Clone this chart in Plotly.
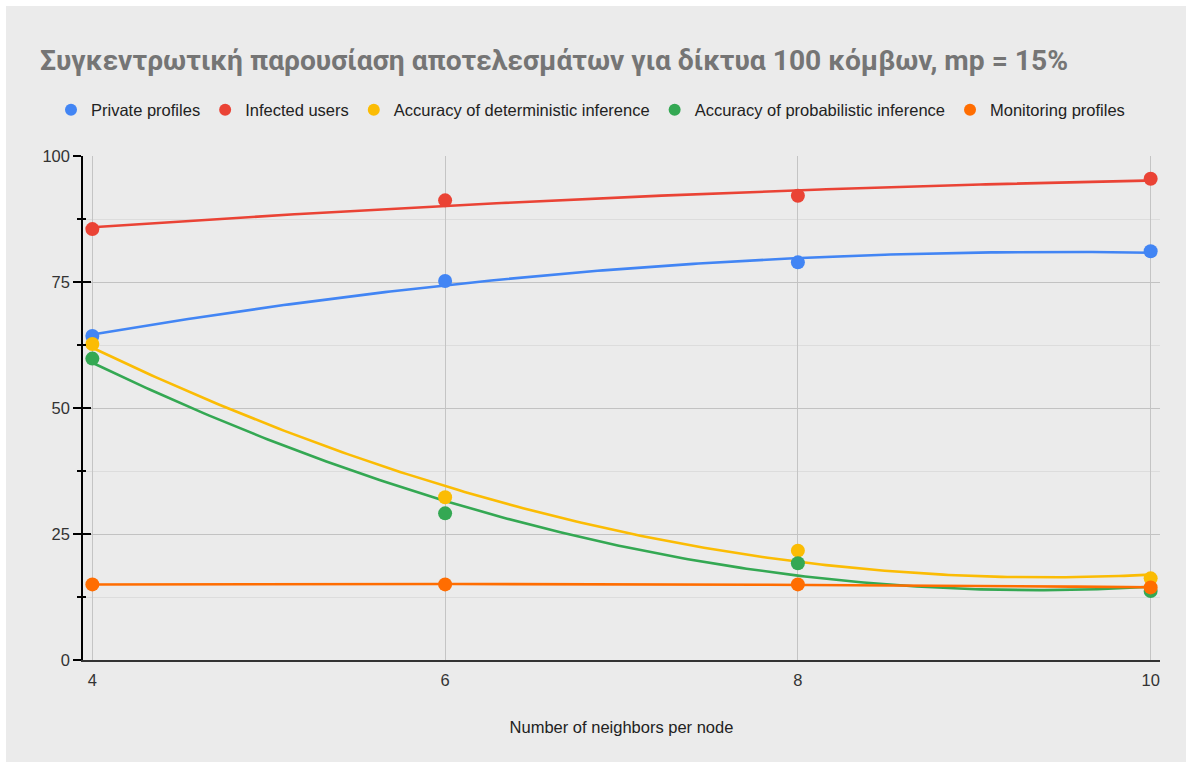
import numpy as np
import plotly.graph_objects as go

# ---- data ----
neighbors = [4, 6, 8, 10]
private_profiles = [64.3, 75.2, 78.9, 81.1]
infected_users = [85.5, 91.2, 92.1, 95.5]
acc_deterministic = [62.7, 32.3, 21.7, 16.2]
acc_probabilistic = [59.8, 29.1, 19.2, 13.7]
monitoring_profiles = [15.0, 15.0, 15.0, 14.4]

series_names = ["Private profiles", "Infected users", "Accuracy of deterministic inference",
                "Accuracy of probabilistic inference", "Monitoring profiles"]
series_values = [private_profiles, infected_users, acc_deterministic, acc_probabilistic, monitoring_profiles]
colors = ["#4285F4", "#EA4335", "#FBBC04", "#34A853", "#FF6D01"]

y_ticks = [0, 25, 50, 75, 100]
x_ticks = [4, 6, 8, 10]

title_text = "Συγκεντρωτική παρουσίαση αποτελεσμάτων για δίκτυα 100 κόμβων, mp = 15%"
x_title = "Number of neighbors per node"

FONT = "Liberation Sans, Arial, sans-serif"

fig = go.Figure()

# polynomial (degree 2) trendlines computed from the data
xs = np.linspace(min(neighbors), max(neighbors), 200)
for name, vals, c in zip(series_names, series_values, colors):
    coef = np.polyfit(neighbors, vals, 2)
    fig.add_trace(go.Scatter(x=xs, y=np.polyval(coef, xs), mode="lines",
                             line=dict(color=c, width=2.6), showlegend=False,
                             hoverinfo="skip"))

for name, vals, c in zip(series_names, series_values, colors):
    fig.add_trace(go.Scatter(x=neighbors, y=vals, mode="markers", name=name,
                             marker=dict(color=c, size=14)))

# dummy trace for second y-axis (inside ticks, to make ticks cross the axis line)
fig.add_trace(go.Scatter(x=[None], y=[None], yaxis="y2", showlegend=False))

W, H = 1192, 767
ml, mr, mt, mb = 83, 32, 156, 107
pw, ph = W - ml - mr, H - mt - mb

fig.update_layout(
    width=W, height=H,
    margin=dict(l=ml, r=mr, t=mt, b=mb),
    paper_bgcolor="white",
    plot_bgcolor="#ebebeb",
    font=dict(family=FONT, size=16.5, color="#222222"),
    title=dict(text="<b>" + title_text + "</b>", x=40 / W, xanchor="left",
               y=1 - 60 / H, yanchor="middle",
               font=dict(family="Roboto, Arial, sans-serif", size=28.2, color="#757575")),
    legend=dict(orientation="h", x=51 / W, xref="container", xanchor="left",
                y=1 - 110 / H, yref="container", yanchor="middle",
                font=dict(size=16.5, color="#222222"), bgcolor="rgba(0,0,0,0)",
                itemsizing="constant"),
    xaxis=dict(range=[3.947, 10.053], tickvals=x_ticks, showgrid=True,
               gridcolor="#c4c4c4", gridwidth=1, zeroline=False,
               showline=True, linecolor="#333333", linewidth=2,
               ticks="", ticklabelstandoff=4, tickfont=dict(size=16.5, color="#333333"),
               title=dict(text=x_title, font=dict(size=16.5, color="#222222"), standoff=34)),
    yaxis=dict(range=[0, 100], tickvals=y_ticks, showgrid=True, gridcolor="#c2c2c2",
               gridwidth=1, zeroline=False, showline=True, linecolor="#000000",
               linewidth=1.5, ticks="outside", ticklen=8, tickcolor="#000000",
               tickwidth=1.5, tickfont=dict(size=16.5, color="#333333"),
               minor=dict(dtick=12.5, showgrid=True, gridcolor="#dcdcdc", ticks="outside",
                          ticklen=4, tickcolor="#000000", tickwidth=1.5)),
    yaxis2=dict(range=[0, 100], overlaying="y", side="left", showgrid=False,
                zeroline=False, showticklabels=False, dtick=25, ticks="inside",
                ticklen=8, tickcolor="#000000", tickwidth=1.5, showline=False,
                minor=dict(dtick=12.5, ticks="inside", ticklen=3, tickcolor="#000000",
                           tickwidth=1.5, showgrid=False)),
)

# gray card background (white margin around)
fig.add_shape(type="rect", xref="paper", yref="paper", layer="below",
              x0=(6 - ml) / pw, x1=(1186 - ml) / pw,
              y0=(5 - mb) / ph, y1=(761 - mb) / ph,
              fillcolor="#ebebeb", line=dict(width=0))

fig.write_html("out.html", config={"displayModeBar": False},
               post_script="document.body.style.margin='0px';")
